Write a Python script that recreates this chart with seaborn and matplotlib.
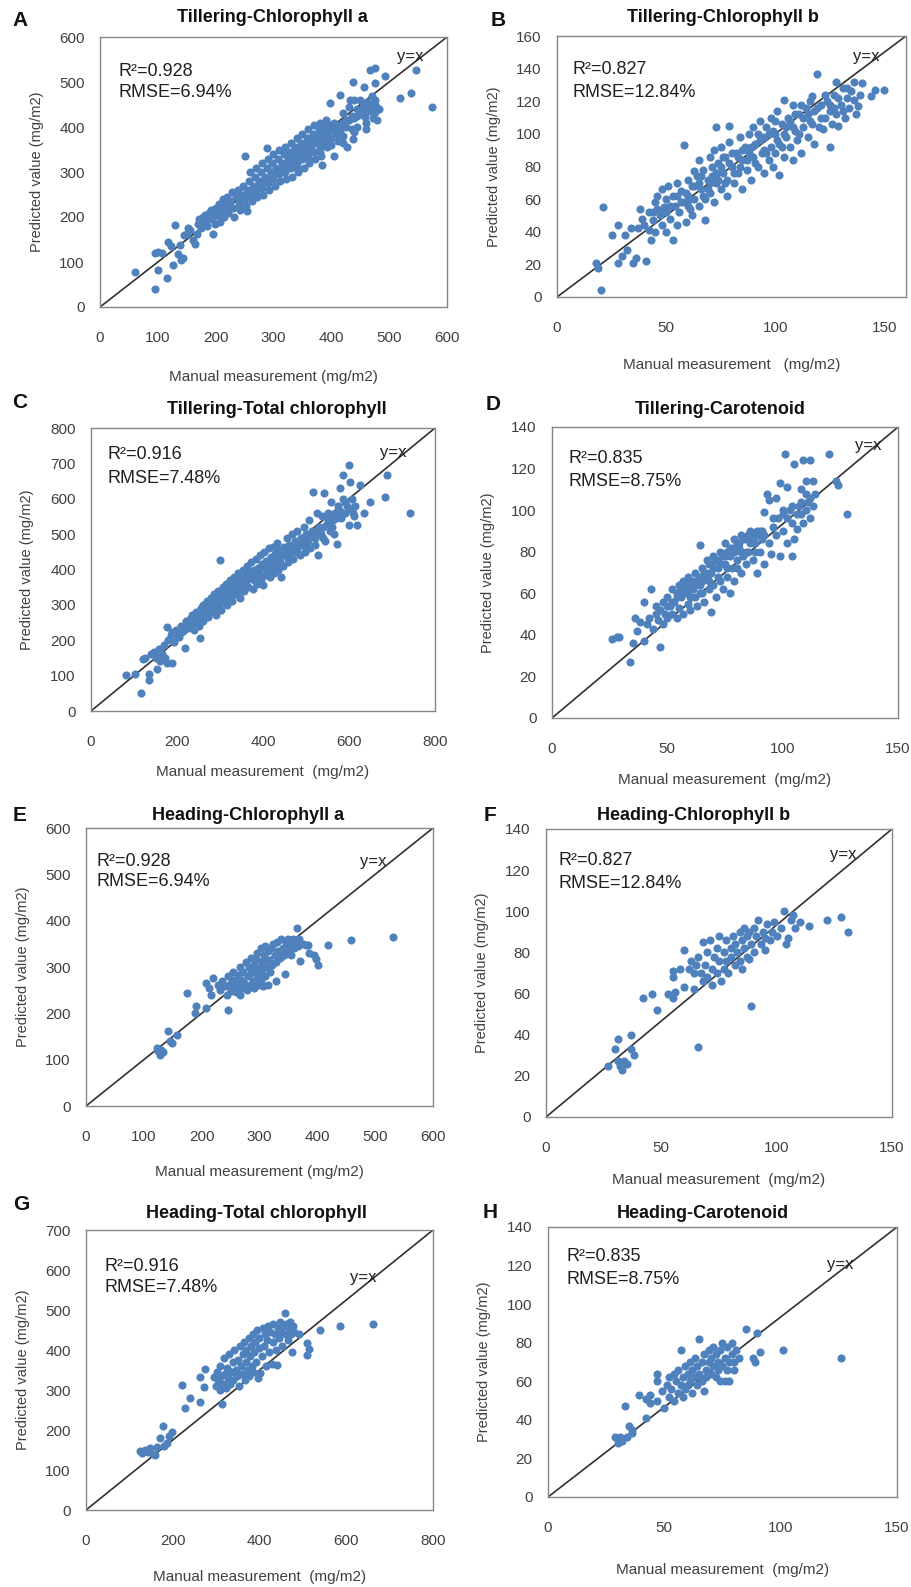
import matplotlib
matplotlib.use("Agg")
import matplotlib.pyplot as plt
import seaborn as sns
import pandas as pd

# ---- data (manual, predicted) ----
tiller_chla = [(60,78),(95,40),(101,83),(95,119),(100,122),(108,120),(115,65),(118,145),(122,135),(127,93),
    (130,182),(135,118),(138,137),(140,105),(143,108),(145,160),(150,163),(152,175),(156,171),(160,150),
    (165,140),(167,163),(170,185),(172,195),(175,175),(178,200),(180,190),(182,205),(185,180),(188,210),
    (190,195),(192,215),(195,200),(196,163),(198,185),(200,220),(202,205),(205,230),(208,190),(210,215),
    (212,240),(215,200),(218,225),(220,245),(222,210),(225,235),(228,255),(230,220),(232,200),(235,245),
    (238,260),(240,230),(242,215),(245,250),(248,270),(250,240),(251,336),(252,225),(254,214),(255,260),
    (258,280),(260,250),(262,235),(265,270),(268,290),(270,255),(272,245),(275,280),(278,300),(280,265),
    (282,250),(285,290),(288,310),(289,353),(290,275),(292,260),(295,300),(298,320),(300,285),(302,270),
    (305,310),(308,330),(310,295),(312,280),(315,320),(318,340),(320,300),(322,285),(325,330),(328,345),
    (330,310),(332,290),(335,340),(338,355),(340,320),(342,300),(345,350),(348,365),(350,330),(352,310),
    (355,360),(358,375),(360,340),(362,320),(365,370),(368,385),(370,345),(372,330),(375,380),(378,395),
    (380,355),(382,335),(384,316),(385,385),(388,400),(390,365),(392,356),(395,390),(398,405),(398,454),
    (400,375),(402,395),(404,336),(405,410),(408,385),(410,400),(412,370),(415,471),(415,390),(418,410),
    (420,380),(421,431),(425,400),(427,356),(430,415),(433,460),(435,395),(438,373),(438,499),(440,420),
    (444,401),(445,440),(450,430),(455,445),(456,490),(459,423),(460,410),(462,455),(465,435),(467,527),
    (470,450),(472,420),(475,460),(476,497),(476,531),(476,434),(478,445),(479,416),(482,440),(493,514),
    (519,464),(537,475),(547,527),(574,444),
    (185,195),(195,215),(205,215),(215,235),(225,225),(235,255),(245,240),(255,250),(265,260),(275,270),
    (285,280),(295,290),(305,300),(315,305),(325,315),(335,325),(345,335),(355,345),(365,355),(375,365),
    (385,370),(395,375),(405,395),(415,405),(425,415),(435,425),(445,425),(455,430),(465,445),(475,450),
    (300,340),(310,350),(320,355),(330,365),(340,375),(350,385),(360,395),(370,405),(380,410),(390,415),
    (260,300),(270,310),(280,320),(290,330),(340,310),(360,330),(380,345),(400,360),(420,365),(440,390),
    (460,395),(470,470),(450,460),(440,460),(430,445)]

tiller_chlb = [(20,4),(18,21),(19,18),(21,55),(25,38),(28,44),(28,21),(30,25),(31,38),(32,29),(34,42),
    (35,21),(36,24),(37,42),(38,54),(39,48),(40,44),(41,22),(42,41),(42,52),(43,35),(44,47),(45,58),(45,40),
    (46,62),(47,50),(48,44),(48,66),(49,55),(50,60),(50,40),(51,68),(52,48),(53,35),(53,62),(54,56),(55,70),
    (55,44),(56,52),(57,65),(58,93),(58,58),(59,46),(60,62),(60,72),(61,54),(62,68),(62,50),(63,77),(63,60),
    (64,74),(65,56),(65,84),(66,66),(67,78),(68,47),(68,60),(69,72),(70,86),(70,64),(71,80),(72,58),(72,90),
    (73,104),(73,70),(74,82),(75,66),(75,92),(76,76),(77,86),(78,62),(78,72),(79,105),(79,95),(80,80),(81,70),
    (82,88),(83,76),(84,98),(85,84),(85,66),(86,92),(87,78),(88,100),(89,72),(90,86),(90,104),(91,94),(92,80),
    (93,108),(94,88),(95,76),(95,98),(96,104),(97,84),(98,110),(98,92),(99,80),(100,100),(100,88),(101,114),
    (102,75),(102,94),(103,106),(104,121),(104,86),(105,98),(106,110),(107,92),(108,118),(108,84),(109,102),
    (110,96),(111,112),(112,88),(113,104),(114,116),(115,98),(116,108),(117,123),(118,94),(118,114),(119,137),
    (120,104),(121,118),(122,103),(123,110),(124,120),(125,92),(125,114),(126,106),(127,124),(128,132),
    (128,112),(129,105),(130,118),(131,128),(132,110),(133,122),(134,116),(135,126),(136,132),(136,121),
    (137,112),(138,117),(139,124),(140,131),(144,123),(146,127),(150,127),
    (55,62),(57,58),(59,64),(61,60),(63,68),(65,70),(67,62),(69,66),(71,74),(73,76),(75,80),(77,70),(79,82),
    (81,76),(83,86),(85,90),(87,84),(89,92),(91,82),(93,96),(95,90),(97,100),(99,102),(101,96),(103,92),
    (105,104),(107,108),(109,112),(111,100),(113,110),(115,112),(117,106),(119,116),(121,110),(123,124),
    (125,118),(127,116),(129,122),(131,114),(133,128),(50,52),(52,56),(48,52),(46,54),(44,52),(60,56),
    (66,74),(70,70),(74,72),(76,86),(80,88),(84,80),(88,88),(92,100),(96,88),(100,108),(104,100),(108,104),
    (112,118),(116,120)]

tiller_total = [(82,102),(103,106),(117,50),(121,147),(125,150),(134,88),(136,106),(140,160),(146,168),
    (150,150),(153,120),(158,175),(160,140),(165,160),(169,186),(172,150),(177,135),(177,238),(180,200),
    (185,215),(188,135),(188,224),(192,195),(198,230),(205,210),(210,240),(215,225),(219,177),(222,255),
    (225,235),(230,260),(232,245),(236,270),(240,230),(242,255),(245,280),(248,265),(250,240),(254,205),
    (255,290),(258,270),(260,255),(263,300),(266,280),(270,310),(272,265),(275,295),(278,320),(280,280),
    (283,305),(286,330),(288,290),(290,270),(292,315),(295,340),(298,300),(300,426),(300,325),(303,285),
    (306,350),(308,310),(310,330),(313,360),(316,300),(318,340),(320,320),(323,370),(326,345),(328,310),
    (330,355),(333,380),(336,330),(338,360),(340,345),(343,390),(346,320),(348,370),(350,355),(353,400),
    (356,340),(358,380),(360,365),(363,410),(366,350),(368,390),(370,375),(373,420),(376,345),(378,395),
    (380,380),(383,430),(386,360),(388,405),(390,390),(393,440),(396,370),(398,415),(400,355),(403,450),
    (406,385),(408,425),(410,400),(413,460),(416,380),(418,435),(420,410),(423,465),(426,390),(428,445),
    (430,420),(433,475),(436,400),(438,455),(440,430),(443,380),(446,410),(448,465),(450,440),(455,490),
    (458,420),(460,470),(465,450),(468,500),(470,430),(475,480),(478,460),(480,510),(485,440),(488,490),
    (490,470),(495,520),(498,450),(500,500),(505,480),(508,540),(510,460),(515,510),(517,620),(520,490),
    (525,560),(528,440),(530,520),(535,500),(538,550),(541,615),(545,480),(548,530),(552,560),(555,510),
    (558,590),(562,540),(565,500),(568,560),(572,473),(575,580),(579,631),(582,545),(585,600),(587,666),
    (590,560),(595,580),(599,525),(599,695),(603,648),(605,570),(608,600),(612,550),(615,580),(618,525),
    (626,640),(634,560),(649,591),(684,605),(688,668),(742,560),
    (250,265),(260,280),(270,290),(280,300),(290,310),(300,305),(310,320),(320,335),(330,340),(340,360),
    (350,370),(360,380),(370,390),(380,400),(390,405),(400,410),(410,420),(420,430),(430,440),(440,445),
    (450,455),(460,455),(470,465),(480,475),(490,490),(500,475),(510,500),(520,510),(530,505),(540,520),
    (550,540),(560,555),(570,545),(580,565),(590,590),(600,575),(610,560),(320,350),(340,330),(360,350),
    (380,370),(400,385),(420,400),(440,415),(460,430),(480,450),(500,460),(520,470),(540,490),(560,520),
    (300,340),(280,320),(260,300),(240,270),(230,250),(220,240),(210,225),(200,215)]

tiller_car = [(26,38),(28,39),(29,39),(34,27),(35,36),(36,48),(37,42),(38,46),(40,37),(40,56),(41,45),
    (42,48),(43,62),(44,43),(45,50),(45,54),(46,47),(47,34),(47,52),(48,56),(48,45),(49,50),(50,58),(50,48),
    (51,54),(52,62),(52,50),(53,56),(54,60),(54,48),(55,64),(55,53),(56,58),(57,66),(57,50),(58,60),(59,68),
    (59,55),(60,62),(60,52),(61,66),(62,58),(62,70),(63,54),(64,83),(64,64),(65,60),(65,72),(66,56),(67,68),
    (67,76),(68,62),(69,51),(69,70),(70,64),(70,78),(71,58),(72,72),(73,80),(73,66),(74,62),(75,74),(75,84),
    (76,68),(77,78),(77,60),(78,72),(79,86),(79,66),(80,76),(81,82),(82,70),(82,88),(83,78),(84,74),(85,86),
    (85,80),(86,90),(87,76),(88,84),(89,70),(89,88),(90,80),(91,86),(92,99),(92,74),(93,108),(94,105),(94,84),
    (95,79),(96,92),(97,106),(97,88),(98,96),(99,78),(99,113),(100,90),(100,98),(101,127),(102,111),(102,84),
    (103,100),(104,78),(104,94),(105,122),(105,86),(106,91),(107,102),(108,98),(108,110),(109,124),(109,94),
    (110,114),(110,100),(111,104),(112,124),(112,96),(113,114),(113,102),(114,108),(120,127),(123,114),
    (124,112),(128,98),
    (50,54),(52,56),(54,58),(56,62),(58,64),(60,66),(62,64),(64,68),(66,70),(68,74),(70,72),(72,76),(74,78),
    (76,80),(78,82),(80,84),(82,80),(84,86),(86,84),(88,88),(90,90),(55,60),(57,62),(59,60),(61,62),(63,66),
    (65,66),(67,70),(69,74),(71,76),(73,74),(75,78),(77,82),(79,80),(81,84),(83,86),(85,88),(87,86),(89,90),
    (91,90),(60,58),(64,60),(68,66),(72,68),(76,72),(80,72),(84,80),(88,80),(92,88),(96,96),(100,100),
    (104,102),(108,104),(112,106),(110,108),(106,98),(102,96)]

heading_chla = [(122,125),(125,118),(128,110),(130,120),(134,117),(142,162),(145,140),(148,135),(157,153),
    (174,243),(188,200),(191,215),(208,211),(208,265),(212,255),(217,240),(220,276),(228,262),(232,250),
    (236,270),(240,258),(243,240),(246,207),(246,280),(248,262),(250,248),(252,272),(255,290),(256,255),
    (258,268),(260,245),(262,282),(264,260),(266,240),(266,300),(268,272),(270,255),(272,290),(274,265),
    (276,310),(278,250),(280,280),(282,300),(284,262),(285,320),(286,288),(288,270),(290,305),(291,255),
    (292,290),(294,318),(295,275),(296,330),(298,262),(299,300),(300,285),(302,340),(303,270),(304,312),
    (305,295),(306,258),(308,325),(310,345),(310,280),(312,300),(314,335),(315,262),(316,315),(318,290),
    (320,340),(322,305),(324,350),(326,325),(328,310),(329,270),(330,355),(332,335),(335,320),(338,360),
    (340,340),(342,325),(344,285),(346,355),(348,335),(350,360),(352,345),(354,325),(356,350),(358,360),
    (360,340),(362,355),(364,384),(366,345),(368,360),(370,312),(375,350),(380,348),(384,348),(386,330),
    (395,326),(398,318),(401,305),(418,348),(459,359),(531,364)]

heading_chlb = [(27,25),(30,33),(31,38),(31,27),(32,25),(33,23),(34,27),(35,26),(37,40),(37,33),(38,30),
    (42,58),(46,60),(48,52),(53,60),(55,58),(55,71),(55,68),(56,61),(58,72),(60,81),(60,63),(62,72),(63,76),
    (64,62),(64,70),(65,74),(66,34),(66,78),(67,70),(68,66),(68,85),(69,74),(70,68),(70,80),(71,86),(72,72),
    (72,64),(73,78),(74,82),(74,70),(75,88),(75,76),(76,66),(77,80),(77,72),(78,86),(78,76),(79,70),(80,82),
    (80,78),(81,88),(82,74),(82,84),(83,80),(84,90),(84,76),(85,86),(85,72),(86,92),(86,82),(87,78),(87,88),
    (88,77),(88,90),(89,54),(89,84),(90,92),(90,80),(91,88),(92,96),(93,84),(94,90),(95,81),(95,87),(96,94),
    (97,86),(98,90),(99,95),(100,88),(102,92),(103,100),(104,84),(105,87),(106,96),(107,98),(108,92),
    (110,95),(114,93),(122,96),(128,97),(131,90)]

heading_total = [(125,148),(130,142),(136,150),(142,145),(148,154),(155,140),(159,138),(163,158),(171,179),
    (177,210),(180,160),(186,167),(192,185),(198,196),(221,312),(228,254),(240,279),(262,271),(262,333),
    (271,308),(274,352),(294,333),(300,310),(302,345),(305,325),(308,300),(310,360),(312,335),(313,265),
    (315,315),(318,380),(320,340),(322,305),(325,355),(328,330),(330,390),(332,315),(335,345),(338,370),
    (340,325),(342,400),(345,350),(348,335),(350,375),(352,310),(355,410),(358,360),(360,340),(362,390),
    (365,420),(366,325),(368,370),(370,400),(372,350),(375,430),(376,335),(378,385),(380,410),(382,360),
    (385,440),(386,345),(388,395),(390,420),(392,370),(395,450),(396,330),(398,405),(400,430),(402,342),
    (405,385),(408,455),(410,410),(412,440),(415,360),(418,425),(420,460),(422,395),(425,445),(428,364),
    (430,420),(432,465),(435,440),(438,400),(440,363),(442,455),(445,430),(448,470),(450,445),(452,410),
    (455,460),(459,492),(460,440),(462,465),(465,425),(468,455),(470,470),(472,440),(475,396),(478,460),
    (480,445),(490,440),(509,417),(509,388),(513,402),(540,450),(586,460),(662,465)]

heading_car = [(29,31),(30,28),(30,30),(31,31),(32,29),(33,47),(34,31),(35,37),(36,33),(36,35),(39,53),
    (42,41),(42,51),(44,49),(44,53),(47,64),(47,60),(47,50),(49,55),(50,46),(51,58),(52,52),(52,62),(53,56),
    (54,64),(54,50),(55,60),(56,54),(56,66),(57,76),(57,58),(58,62),(58,52),(59,68),(59,56),(60,64),(60,58),
    (61,70),(61,60),(62,66),(62,54),(63,72),(63,62),(64,58),(64,68),(65,82),(65,64),(66,70),(66,60),(67,55),
    (67,74),(68,66),(68,62),(69,70),(69,76),(70,64),(70,72),(71,68),(71,78),(72,62),(72,74),(73,70),(73,66),
    (74,76),(74,60),(75,80),(75,68),(76,60),(76,72),(77,66),(77,78),(78,60),(78,70),(79,80),(79,74),(80,70),
    (80,66),(81,76),(82,72),(85,87),(88,72),(89,70),(90,85),(91,75),(101,76),(126,72)]

titles = ["Tillering-Chlorophyll a", "Tillering-Chlorophyll b", "Tillering-Total chlorophyll",
          "Tillering-Carotenoid", "Heading-Chlorophyll a", "Heading-Chlorophyll b",
          "Heading-Total chlorophyll", "Heading-Carotenoid"]
letters = list("ABCDEFGH")
r2_text = ["R²=0.928", "R²=0.827", "R²=0.916", "R²=0.835"] * 2
rmse_text = ["RMSE=6.94%", "RMSE=12.84%", "RMSE=7.48%", "RMSE=8.75%"] * 2
x_max = [600, 160, 800, 150, 600, 150, 800, 150]
x_step = [100, 50, 200, 50, 100, 50, 200, 50]
y_max = [600, 160, 800, 140, 600, 140, 700, 140]
y_step = [100, 20, 100, 20, 100, 20, 100, 20]
xlabels = ["Manual measurement (mg/m2)", "Manual measurement   (mg/m2)",
           "Manual measurement  (mg/m2)", "Manual measurement  (mg/m2)",
           "Manual measurement (mg/m2)", "Manual measurement  (mg/m2)",
           "Manual measurement  (mg/m2)", "Manual measurement  (mg/m2)"]
datasets = [tiller_chla, tiller_chlb, tiller_total, tiller_car,
            heading_chla, heading_chlb, heading_total, heading_car]

# ---- layout in pixels: axes box (left, right, top, bottom), title/letter pos, text pos ----
boxes = [(100, 447, 37, 307), (557, 906, 36, 297), (91, 435, 428, 711), (552, 898, 427, 718),
         (86, 433, 828, 1106), (546, 892, 829, 1117), (86, 433, 1230, 1510), (548, 897, 1227, 1497)]
title_pos = [(272, 18), (723, 17), (277, 410), (720, 410), (248, 815), (694, 815), (256, 1213), (703, 1213)]
letter_pos = [(20, 20), (498, 20), (20, 403), (493, 404), (20, 815), (490, 815), (21, 1205), (490, 1213)]
stat_pos = [(0.052, 0.874, 0.796), (0.043, 0.870, 0.785), (0.047, 0.908, 0.823), (0.049, 0.893, 0.814),
            (0.029, 0.881, 0.806), (0.035, 0.889, 0.810), (0.052, 0.868, 0.793), (0.052, 0.889, 0.807)]
yx_pos = [(0.856, 0.926), (0.848, 0.92), (0.84, 0.912), (0.876, 0.938),
          (0.79, 0.881), (0.82, 0.91), (0.76, 0.832), (0.80, 0.86)]
xlabel_y = [-0.233, -0.234, -0.191, -0.189, -0.212, -0.194, -0.214, -0.244]
ylabel_x = [-0.161, -0.160, -0.166, -0.165, -0.161, -0.165, -0.161, -0.163]

sns.set_style("white")
plt.rcParams['font.family'] = ['Liberation Sans', 'DejaVu Sans']

W, H = 912, 1587
fig = plt.figure(figsize=(W / 100, H / 100), dpi=100)
blue = "#4F81BD"
grey = "#868686"

for i in range(8):
    l, r, t, b = boxes[i]
    ax = fig.add_axes([l / W, 1 - b / H, (r - l) / W, (b - t) / H])
    df = pd.DataFrame(datasets[i], columns=["manual", "predicted"])
    sns.scatterplot(data=df, x="manual", y="predicted", ax=ax, color=blue,
                    s=34, linewidth=0, zorder=3)
    ax.plot([0, x_max[i]], [0, y_max[i]], color="#303030", lw=1.2, zorder=2)
    ax.set_xlim(0, x_max[i])
    ax.set_ylim(0, y_max[i])
    ax.set_xticks(range(0, x_max[i] + 1, x_step[i]))
    ax.set_yticks(range(0, y_max[i] + 1, y_step[i]))
    for s in ax.spines.values():
        s.set_color(grey)
        s.set_linewidth(1.0)
    ax.tick_params(axis="x", direction="out", length=3, color=grey, pad=14,
                   labelsize=11, labelcolor="#404040")
    ax.tick_params(axis="y", direction="out", length=0, pad=11,
                   labelsize=11, labelcolor="#404040")
    ax.set_xlabel(xlabels[i], fontsize=11, color="#404040")
    ax.xaxis.set_label_coords(0.5, xlabel_y[i])
    ax.set_ylabel("Predicted value (mg/m2)", fontsize=10.5, color="#404040")
    ax.yaxis.set_label_coords(ylabel_x[i], 0.5)

    fx, fy1, fy2 = stat_pos[i]
    ax.text(fx, fy1, r2_text[i], transform=ax.transAxes, fontsize=13,
            color="#202020", va="center", ha="left")
    ax.text(fx, fy2, rmse_text[i], transform=ax.transAxes, fontsize=13,
            color="#202020", va="center", ha="left")
    ax.text(yx_pos[i][0], yx_pos[i][1], "y=x", transform=ax.transAxes,
            fontsize=12, color="#202020", va="center", ha="left")

    tx, ty = title_pos[i]
    fig.text(tx / W, 1 - ty / H, titles[i], fontsize=13, fontweight="bold",
             ha="center", va="center", color="#111111")
    lx, ly = letter_pos[i]
    fig.text(lx / W, 1 - ly / H, letters[i], fontsize=15, fontweight="bold",
             ha="center", va="center", color="#111111")

fig.savefig("out.png", dpi=100, facecolor="white")
